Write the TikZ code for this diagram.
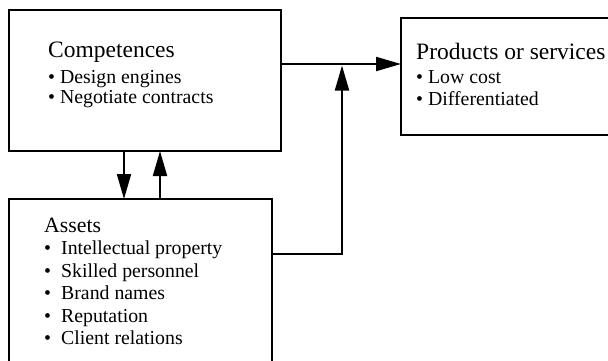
\documentclass[tikz,border=0pt]{standalone}
\usepackage{fontspec}
\setmainfont{Liberation Serif}
\usetikzlibrary{arrows.meta}
\begin{document}
\begin{tikzpicture}[x=1pt,y=-1pt,
  box/.style={draw,line width=2.4pt,rectangle,anchor=north west,inner sep=0pt,outer sep=0pt},
  head/.style={anchor=base west,inner sep=0pt,font=\fontsize{23.5}{28}\selectfont},
  item/.style={anchor=base west,inner sep=0pt,font=\fontsize{19.8}{24}\selectfont},
  wire/.style={line width=2pt},
  link/.style={wire,-{Triangle[length=25pt,width=14pt]}}]
\useasboundingbox (0,0) rectangle (608,360);

% boxes
\node[box,minimum width=272pt,minimum height=141pt] (comp) at (9,10) {};
\node[box,minimum width=215pt,minimum height=117pt] (prod) at (401,18) {};
\node[box,minimum width=263pt,minimum height=175pt] (assets) at (9,199) {};

% Competences
\node[head] (compT) at (48,57) {Competences};
\node[item] (comp1) at (48,83) {\textbullet\ Design engines};
\node[item] (comp2) at (48,103) {\textbullet\ Negotiate contracts};

% Products or services
\node[head] (prodT) at (416,59) {Products or services};
\node[item] (prod1) at (416,83) {\textbullet\ Low cost};
\node[item] (prod2) at (416,105) {\textbullet\ Differentiated};

% Assets
\node[head,font=\fontsize{21.8}{26}\selectfont] (assetsT) at (44,232) {Assets};
\node[item] (a1) at (44,254) {\makebox[17pt][l]{\textbullet}Intellectual property};
\node[item] (a2) at (44,277) {\makebox[17pt][l]{\textbullet}Skilled personnel};
\node[item] (a3) at (44,299) {\makebox[17pt][l]{\textbullet}Brand names};
\node[item] (a4) at (44,322) {\makebox[17pt][l]{\textbullet}Reputation};
\node[item] (a5) at (44,344) {\makebox[17pt][l]{\textbullet}Client relations};

% junction points
\coordinate (j) at (342,64);
\coordinate (k) at (342,254);
\coordinate (dn) at (124,0);
\coordinate (up) at (160,0);

% connectors
\draw[link] (comp.south -| dn) -- (assets.north -| dn);
\draw[link] (assets.north -| up) -- (comp.south -| up);
\draw[link] (comp.east |- j) -- (prod.west |- j);
\draw[link,shorten >=1.5pt] (assets.east |- k) -- (k) -- (j);
\end{tikzpicture}
\end{document}
